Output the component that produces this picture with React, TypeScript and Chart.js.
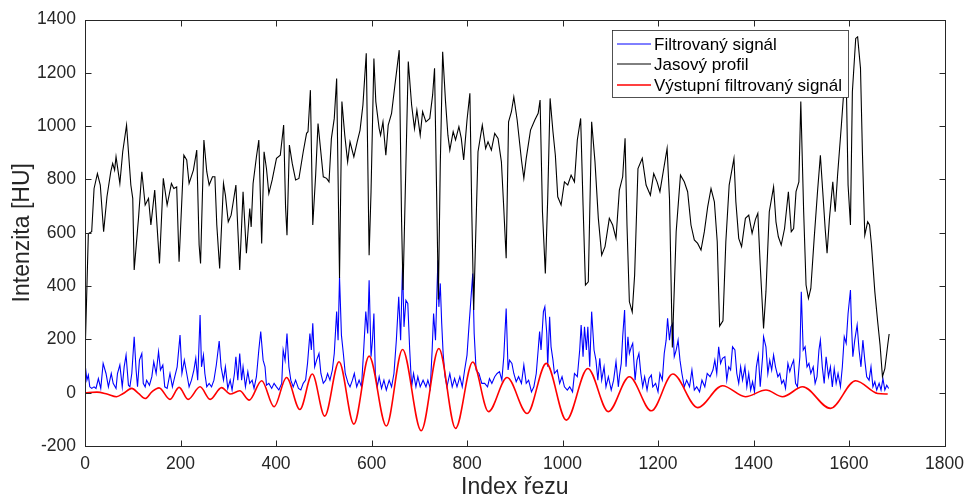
import React, { useEffect, useRef } from "react";
import { Chart, registerables } from "chart.js";

Chart.register(...registerables);

// x tick values (Index řezu) and y tick values (Intenzita [HU])
const xTicks = [0, 200, 400, 600, 800, 1000, 1200, 1400, 1600, 1800];
const yTicks = [-200, 0, 200, 400, 600, 800, 1000, 1200, 1400];

const seriesLabels = ["Filtrovaný signál", "Jasový profil", "Výstupní filtrovaný signál"];

// [index, intensity] readings of the black brightness profile
const jasovyProfil: [number, number][] = [
  [0, 130], [7, 597], [14, 604], [19, 766], [26, 822], [32, 779], [39, 604], [46, 735], [54, 829], [58, 860],
  [62, 835], [65, 885], [73, 785], [79, 904], [87, 1004], [96, 779], [100, 729], [103, 460], [112, 654], [119, 829],
  [126, 704], [133, 729], [138, 629], [146, 760], [156, 485], [164, 804], [172, 704], [181, 785], [186, 766], [192, 772],
  [197, 491], [207, 891], [213, 873], [218, 785], [227, 835], [234, 910], [239, 554], [242, 485], [249, 948], [255, 829],
  [260, 779], [267, 810], [272, 810], [276, 629], [282, 466], [290, 785], [294, 741], [300, 641], [306, 666], [311, 722],
  [316, 779], [320, 616], [324, 460], [331, 754], [338, 523], [345, 691], [348, 622], [352, 785], [359, 885], [364, 948],
  [370, 560], [375, 904], [380, 841], [385, 747], [392, 798], [401, 879], [409, 891], [416, 1004], [420, 697], [423, 591],
  [428, 929], [434, 860], [441, 798], [448, 804], [457, 904], [464, 973], [467, 979], [472, 1135], [477, 629], [483, 816],
  [488, 1010], [499, 810], [506, 804], [511, 791], [516, 954], [522, 1029], [527, 1179], [533, 430], [538, 1092], [544, 966],
  [550, 866], [555, 941], [563, 885], [570, 941], [576, 985], [582, 1079], [589, 1273], [595, 516], [599, 754], [605, 1254],
  [609, 1092], [616, 991], [619, 966], [624, 1016], [630, 891], [635, 1004], [642, 1048], [649, 1154], [658, 1285], [663, 641],
  [666, 385], [672, 854], [677, 1242], [684, 1079], [690, 991], [695, 1060], [702, 966], [707, 1054], [714, 1016], [722, 1029],
  [728, 1117], [732, 1217], [737, 679], [740, 350], [744, 854], [749, 1279], [755, 1092], [760, 966], [764, 910], [771, 979],
  [776, 948], [783, 998], [788, 954], [793, 873], [800, 1023], [806, 1123], [810, 679], [814, 310], [823, 904], [832, 1004],
  [839, 916], [844, 941], [851, 910], [858, 973], [865, 954], [872, 866], [877, 691], [882, 504], [887, 1016], [893, 1054],
  [898, 1110], [905, 1023], [914, 873], [919, 804], [924, 879], [933, 985], [942, 1023], [949, 1048], [953, 1098], [958, 679],
  [964, 447], [969, 729], [974, 1104], [980, 979], [985, 891], [990, 735], [997, 704], [1004, 791], [1011, 779], [1018, 816],
  [1025, 791], [1031, 948], [1038, 1029], [1043, 704], [1048, 404], [1054, 416], [1061, 1016], [1068, 866], [1075, 654], [1082, 516],
  [1089, 548], [1098, 654], [1105, 629], [1112, 579], [1119, 760], [1126, 810], [1131, 954], [1135, 629], [1140, 341], [1146, 303],
  [1151, 441], [1158, 841], [1167, 879], [1175, 779], [1184, 741], [1191, 822], [1198, 791], [1204, 754], [1212, 841], [1219, 916],
  [1224, 729], [1230, 170], [1238, 604], [1247, 816], [1255, 791], [1262, 754], [1269, 629], [1276, 573], [1283, 560], [1290, 535],
  [1297, 604], [1304, 697], [1311, 766], [1318, 716], [1324, 566], [1329, 250], [1336, 270], [1342, 566], [1349, 779], [1359, 879],
  [1363, 716], [1369, 579], [1375, 548], [1383, 654], [1390, 666], [1397, 598], [1404, 650], [1409, 673], [1414, 479], [1421, 241],
  [1426, 379], [1433, 679], [1442, 772], [1447, 641], [1452, 585], [1458, 554], [1465, 616], [1473, 754], [1479, 604], [1484, 616],
  [1489, 754], [1495, 791], [1499, 1092], [1505, 679], [1510, 404], [1515, 354], [1520, 391], [1527, 579], [1534, 754], [1540, 891],
  [1545, 754], [1550, 616], [1554, 523], [1559, 654], [1566, 791], [1571, 679], [1576, 816], [1584, 1004], [1590, 1154], [1594, 1192],
  [1598, 779], [1603, 629], [1607, 1129], [1614, 1329], [1618, 1335], [1624, 1217], [1628, 904], [1633, 591], [1639, 641], [1643, 629],
  [1647, 554], [1654, 379], [1660, 266], [1665, 179], [1670, 60], [1675, 90], [1681, 179], [1684, 220],
];

// [index, intensity] readings of the blue filtered signal
const filtrovanySignal: [number, number][] = [
  [0, 110], [4, 47], [7, 66], [10, 22], [14, 16], [19, 22], [23, 16], [28, 53], [33, 16], [38, 110],
  [44, 72], [49, 22], [55, 72], [59, 35], [65, 16], [68, 72], [73, 104], [78, 22], [82, 97], [86, 141],
  [91, 28], [94, 22], [98, 72], [103, 210], [107, 85], [110, 22], [114, 122], [119, 147], [122, 35], [126, 22],
  [129, 47], [135, 28], [140, 60], [144, 116], [149, 72], [154, 154], [158, 85], [163, 104], [167, 22], [172, 16],
  [178, 72], [183, 22], [188, 60], [193, 97], [199, 216], [203, 72], [208, 122], [213, 72], [218, 22], [223, 47],
  [228, 85], [232, 129], [236, 47], [241, 291], [244, 97], [248, 141], [251, 72], [255, 22], [260, 35], [265, 22],
  [270, 47], [275, 104], [281, 194], [285, 97], [290, 47], [294, 97], [299, 16], [304, 47], [308, 10], [313, 72],
  [316, 135], [320, 47], [324, 147], [328, 47], [331, 97], [336, 22], [341, 79], [345, 35], [350, 47], [354, 16],
  [359, 60], [364, 160], [368, 229], [373, 122], [377, 97], [380, 28], [385, 35], [391, 16], [396, 35], [401, 22],
  [406, 10], [412, 35], [415, 160], [419, 122], [423, 222], [427, 97], [431, 47], [436, 22], [441, 47], [447, 16],
  [452, 10], [457, 35], [462, 47], [466, 110], [471, 222], [474, 160], [477, 260], [481, 97], [485, 122], [490, 147],
  [494, 72], [499, 35], [504, 47], [508, 72], [513, 47], [518, 85], [522, 147], [527, 304], [530, 197], [533, 435],
  [537, 216], [541, 147], [545, 72], [551, 35], [555, 22], [560, 47], [564, 72], [569, 22], [574, 47], [579, 22],
  [584, 172], [588, 304], [592, 222], [595, 422], [599, 135], [602, 197], [605, 297], [608, 72], [612, 22], [616, 60],
  [621, 16], [626, 47], [631, 10], [637, 47], [642, 22], [647, 72], [652, 197], [657, 360], [661, 197], [665, 480],
  [668, 247], [672, 347], [676, 335], [680, 160], [684, 22], [688, 72], [693, 22], [697, 60], [702, 22], [708, 47],
  [714, 22], [718, 47], [723, 16], [727, 160], [730, 297], [734, 197], [739, 497], [741, 322], [744, 410], [747, 260],
  [750, 147], [754, 60], [758, 22], [764, 72], [769, 22], [774, 53], [779, 22], [785, 60], [790, 22], [795, 85],
  [800, 141], [804, 247], [808, 347], [812, 447], [815, 222], [819, 85], [825, 72], [831, 35], [837, 35], [843, 22],
  [847, 53], [852, 35], [858, 60], [863, 72], [868, 79], [873, 47], [877, 135], [882, 316], [886, 85], [889, 122],
  [894, 110], [898, 72], [903, 41], [908, 60], [914, 35], [919, 104], [924, 35], [929, 47], [935, 3], [940, 22],
  [945, 72], [949, 160], [952, 229], [955, 160], [960, 304], [963, 322], [967, 222], [969, 97], [973, 285], [976, 172],
  [980, 122], [983, 72], [989, 85], [994, 35], [999, 60], [1004, 22], [1010, 10], [1015, 22], [1021, 3], [1025, 72],
  [1031, 60], [1036, 160], [1039, 254], [1043, 135], [1046, 247], [1050, 160], [1053, 247], [1057, 97], [1061, 304], [1066, 160],
  [1070, 122], [1074, 47], [1078, 129], [1082, 47], [1087, 97], [1091, 22], [1096, 60], [1102, 10], [1107, 47], [1112, 116],
  [1117, 22], [1119, 60], [1123, 110], [1126, 210], [1130, 310], [1133, 97], [1137, 210], [1140, 147], [1144, 172], [1147, 185],
  [1152, 47], [1156, 122], [1160, 147], [1164, 72], [1168, 22], [1172, 60], [1177, 10], [1181, 53], [1186, 66], [1189, 22],
  [1195, 35], [1200, 3], [1204, 72], [1209, 47], [1213, 147], [1217, 197], [1220, 279], [1224, 197], [1227, 247], [1231, 260],
  [1234, 135], [1238, 160], [1242, 197], [1246, 122], [1250, 72], [1255, 22], [1260, 47], [1266, 22], [1271, 85], [1276, 10],
  [1281, 22], [1287, 3], [1292, 47], [1298, 22], [1303, 72], [1309, 60], [1315, 85], [1319, 122], [1323, 72], [1327, 172],
  [1331, 110], [1335, 129], [1340, 135], [1344, 47], [1348, 97], [1352, 85], [1356, 172], [1361, 160], [1365, 72], [1369, 35],
  [1373, 97], [1377, 47], [1382, 97], [1386, 22], [1390, 72], [1394, 10], [1398, 41], [1402, 3], [1406, 97], [1410, 141],
  [1414, 22], [1419, 135], [1421, 210], [1426, 172], [1430, 72], [1434, 122], [1438, 85], [1442, 141], [1446, 97], [1451, 60],
  [1455, 72], [1459, 35], [1463, 47], [1467, 16], [1472, 110], [1476, 79], [1480, 104], [1484, 122], [1488, 35], [1492, 22],
  [1497, 135], [1500, 379], [1504, 160], [1508, 172], [1512, 97], [1516, 110], [1520, 72], [1525, 97], [1529, 35], [1533, 60],
  [1537, 160], [1540, 197], [1544, 97], [1548, 35], [1552, 135], [1557, 60], [1561, 97], [1565, 22], [1569, 91], [1573, 35],
  [1577, 72], [1582, 22], [1586, 97], [1590, 210], [1594, 185], [1598, 297], [1603, 385], [1605, 260], [1608, 135], [1612, 197],
  [1617, 254], [1621, 160], [1625, 97], [1629, 197], [1633, 122], [1637, 60], [1642, 47], [1646, 97], [1650, 22], [1654, 41],
  [1658, 10], [1663, 35], [1667, 10], [1671, 53], [1675, 10], [1679, 28], [1683, 16],
];

// [index, intensity] readings of the red output filtered signal (extrema)
const vystupniSignal: [number, number][] = [
  [0, 0], [25, 2], [46, -5], [66, -15], [80, -3], [98, 16], [112, -3], [126, -22], [140, 3], [155, 18],
  [178, -25], [197, 20], [216, -25], [241, 22], [262, -25], [286, 19], [304, -5], [324, 7], [344, -28], [370, 45],
  [396, -53], [422, 57], [450, -63], [476, 70], [502, -88], [532, 116], [563, -118], [595, 137], [631, -125], [665, 162],
  [704, -143], [741, 166], [776, -134], [812, 115], [845, -71], [884, 57], [926, -78], [966, 110], [1008, -103], [1053, 91],
  [1096, -71], [1140, 60], [1186, -68], [1231, 70], [1283, -56], [1335, 26], [1383, -15], [1426, 10], [1461, -15], [1503, 22],
  [1561, -59], [1614, 45], [1660, -3], [1681, -5],
];

const FONT = "'Liberation Sans', Arial, Helvetica, sans-serif";
const AXIS_COLOR = "#262626";

const toPoints = (s: [number, number][]) => s.map(([x, y]) => ({ x, y }));

const framePlugin = {
  id: "matlabFrame",
  afterDatasetsDraw(chart: any) {
    const { ctx, chartArea: a, scales } = chart;
    const xs = scales.x;
    const ys = scales.y;
    ctx.save();
    ctx.strokeStyle = AXIS_COLOR;
    ctx.lineWidth = 1;
    const L = Math.round(a.left) + 0.5;
    const R = Math.round(a.right) + 0.5;
    const T = Math.round(a.top) + 0.5;
    const B = Math.round(a.bottom) + 0.5;
    ctx.strokeRect(L, T, R - L, B - T);
    const tl = 6;
    ctx.beginPath();
    xTicks.forEach((v) => {
      const px = Math.round(xs.getPixelForValue(v)) + 0.5;
      ctx.moveTo(px, B);
      ctx.lineTo(px, B - tl);
      ctx.moveTo(px, T);
      ctx.lineTo(px, T + tl);
    });
    yTicks.forEach((v) => {
      const py = Math.round(ys.getPixelForValue(v)) + 0.5;
      ctx.moveTo(L, py);
      ctx.lineTo(L + tl, py);
      ctx.moveTo(R, py);
      ctx.lineTo(R - tl, py);
    });
    ctx.stroke();

    // legend box (inside plot, north-east)
    const lx = 612.5, ly = 30.5, lw = 236, lh = 67;
    ctx.fillStyle = "#ffffff";
    ctx.fillRect(lx, ly, lw, lh);
    ctx.strokeStyle = AXIS_COLOR;
    ctx.lineWidth = 0.8;
    ctx.strokeRect(lx, ly, lw, lh);
    const colors = ["#0000ff", "#000000", "#ff0000"];
    const widths = [1, 1, 1.5];
    const rows = [44, 64, 85];
    ctx.font = `17px ${FONT}`;
    ctx.textBaseline = "middle";
    ctx.textAlign = "left";
    seriesLabels.forEach((label, i) => {
      ctx.strokeStyle = colors[i];
      ctx.lineWidth = widths[i];
      ctx.beginPath();
      ctx.moveTo(617, rows[i]);
      ctx.lineTo(651, rows[i]);
      ctx.stroke();
      ctx.fillStyle = "#000000";
      ctx.fillText(label, 654, rows[i] + 1);
    });
    ctx.restore();
  },
};

export default function App() {
  const ref = useRef<HTMLCanvasElement | null>(null);

  useEffect(() => {
    if (!ref.current) return;
    const chart = new Chart(ref.current, {
      type: "line",
      data: {
        datasets: [
          {
            label: seriesLabels[0],
            data: toPoints(filtrovanySignal),
            borderColor: "#0000ff",
            borderWidth: 1.1,
            pointRadius: 0,
            tension: 0,
            order: 3,
          },
          {
            label: seriesLabels[1],
            data: toPoints(jasovyProfil),
            borderColor: "#000000",
            borderWidth: 1.1,
            pointRadius: 0,
            tension: 0,
            order: 2,
          },
          {
            label: seriesLabels[2],
            data: toPoints(vystupniSignal),
            borderColor: "#ff0000",
            borderWidth: 1.6,
            pointRadius: 0,
            cubicInterpolationMode: "monotone",
            order: 1,
          },
        ],
      },
      options: {
        animation: false,
        responsive: false,
        maintainAspectRatio: false,
        parsing: false as any,
        layout: { padding: { top: 19, right: 27, left: 0, bottom: 0 } },
        plugins: {
          legend: { display: false },
          tooltip: { enabled: false },
        },
        scales: {
          x: {
            type: "linear",
            min: 0,
            max: 1800,
            afterBuildTicks: (s: any) => {
              s.ticks = xTicks.map((v) => ({ value: v }));
            },
            afterFit: (s: any) => {
              s.height = 51;
            },
            grid: { display: false, drawTicks: false },
            border: { display: false },
            ticks: {
              color: AXIS_COLOR,
              font: { family: FONT, size: 17.5 },
              padding: 8,
              maxRotation: 0,
              autoSkip: false,
              callback: (v: any) => String(v),
            },
            title: {
              display: true,
              text: "Index řezu",
              color: AXIS_COLOR,
              font: { family: FONT, size: 23, lineHeight: 0.8 },
              padding: { top: 0, bottom: 0 },
            },
          },
          y: {
            type: "linear",
            min: -200,
            max: 1400,
            afterBuildTicks: (s: any) => {
              s.ticks = yTicks.map((v) => ({ value: v }));
            },
            afterFit: (s: any) => {
              s.width = 85;
            },
            grid: { display: false, drawTicks: false },
            border: { display: false },
            ticks: {
              color: AXIS_COLOR,
              font: { family: FONT, size: 17.5 },
              padding: 9,
              autoSkip: false,
              callback: (v: any) => String(v),
            },
            title: {
              display: true,
              text: "Intenzita [HU]",
              color: AXIS_COLOR,
              font: { family: FONT, size: 23, lineHeight: 1 },
              padding: { top: 11, bottom: 0 },
            },
          },
        },
      } as any,
      plugins: [framePlugin],
    });
    return () => chart.destroy();
  }, []);

  return (
    <div style={{ position: "absolute", left: 0, top: 0, width: 972, height: 497, background: "#ffffff" }}>
      <canvas ref={ref} width={972} height={497} style={{ display: "block", width: 972, height: 497 }} />
    </div>
  );
}
